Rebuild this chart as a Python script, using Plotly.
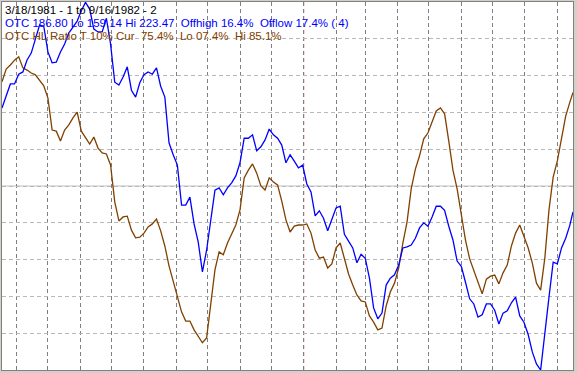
import pandas as pd
import plotly.graph_objects as go

# Sample dates: every 4 calendar days from 3/18/1981, plus the final day 9/16/1982
dates = list(pd.date_range("1981-03-18", periods=137, freq="4D")) + [pd.Timestamp("1982-09-16")]

# OTC index values (blue)
otc = [205.0, 207.1, 209.2, 209.2, 210.9, 211.3, 213.4, 214.6, 217.2, 219.5,
       219.3, 214.8, 212.9, 213.0, 214.8, 216.2, 218.1, 219.2, 220.2, 222.0,
       223.47, 222.3, 218.8, 218.3, 218.3, 220.7, 216.2, 209.5, 209.0, 210.4,
       212.2, 208.1, 206.9, 209.4, 210.8, 211.3, 210.9, 212.0, 208.8, 206.9,
       198.9, 196.8, 195.0, 188.0, 188.0, 189.4, 184.7, 181.5, 176.3, 180.1,
       185.7, 190.6, 191.0, 189.8, 191.0, 191.9, 193.1, 195.4, 199.7, 199.7,
       200.3, 197.5, 198.2, 199.4, 201.3, 200.3, 199.7, 198.5, 195.4, 196.8,
       195.7, 194.5, 195.0, 191.7, 190.3, 186.1, 187.0, 185.7, 183.5, 185.7,
       187.5, 187.8, 182.9, 181.7, 180.5, 177.9, 179.4, 178.7, 175.2, 170.0,
       168.1, 169.1, 174.0, 175.2, 175.8, 177.5, 180.5, 180.7, 181.0, 182.2,
       184.0, 184.9, 184.3, 185.9, 187.8, 187.8, 187.1, 184.3, 181.9, 178.2,
       177.3, 174.5, 171.6, 170.7, 168.4, 168.8, 170.7, 170.7, 169.6, 167.2,
       169.1, 169.5, 170.9, 171.9, 168.6, 167.5, 165.4, 162.3, 160.2, 159.14,
       166.0, 171.9, 178.0, 177.7, 180.5, 182.2, 184.5, 186.80]

# OTC HL Ratio values in % (brown)
hl_ratio = [78.3, 81.8, 82.9, 84.2, 85.1, 82.1, 81.5, 80.7, 80.2, 78.8,
            77.2, 73.9, 65.2, 64.9, 62.2, 65.2, 66.6, 68.5, 70.1, 64.9,
            63.0, 61.4, 63.3, 60.3, 59.0, 58.7, 55.7, 45.7, 40.5, 41.6,
            41.8, 38.0, 35.9, 36.1, 37.2, 38.9, 39.7, 41.0, 37.8, 33.7,
            28.3, 23.9, 20.1, 15.8, 13.3, 13.3, 10.9, 9.2, 7.4, 8.7,
            17.7, 27.2, 32.1, 31.3, 34.5, 37.0, 39.4, 43.5, 52.2, 54.3,
            56.0, 53.5, 50.0, 48.9, 52.2, 51.1, 50.3, 45.9, 40.8, 37.5,
            39.1, 39.4, 39.4, 39.7, 37.2, 32.6, 30.4, 30.7, 27.7, 28.8,
            33.2, 34.5, 30.2, 26.1, 23.1, 20.4, 18.8, 18.5, 14.7, 13.0,
            10.9, 11.4, 17.4, 21.2, 23.6, 27.7, 34.5, 40.2, 49.2, 54.6,
            58.2, 62.8, 64.4, 67.4, 70.4, 71.2, 69.6, 62.2, 54.3, 49.2,
            41.8, 35.3, 30.2, 27.2, 23.9, 20.7, 24.7, 25.5, 25.8, 23.4,
            26.4, 28.5, 33.7, 37.2, 39.4, 36.4, 33.2, 29.1, 23.6, 21.7,
            30.4, 43.5, 52.4, 56.8, 62.8, 69.0, 72.8, 75.4]

month_starts = list(pd.date_range("1981-04-01", "1982-09-01", freq="MS"))
year_break = "1982-01-01"
ratio_grid = [10, 20, 30, 40, 50, 60, 70, 80, 90]

header_lines = [
    ("3/18/1981 - 1 to 9/16/1982 - 2", "#000000"),
    ("OTC 186.80 Lo 159.14 Hi 223.47  Offhigh 16.4%  Offlow 17.4% ( 4)", "#0000ff"),
    ("OTC HL Ratio T 10% Cur  75.4%  Lo 07.4%  Hi 85.1%", "#804000"),
]

BLUE = "#0000ff"
BROWN = "#804000"

fig = go.Figure()
fig.add_trace(go.Scatter(x=dates, y=hl_ratio, mode="lines",
                         line=dict(color=BROWN, width=1.3), yaxis="y",
                         hoverinfo="skip"))
fig.add_trace(go.Scatter(x=dates, y=otc, mode="lines",
                         line=dict(color=BLUE, width=1.3), yaxis="y2",
                         hoverinfo="skip"))

# solid centre line and red year separator
fig.add_shape(type="line", xref="paper", x0=0, x1=1, yref="y", y0=50, y1=50,
              line=dict(color="#c0c0c0", width=1), layer="between")
fig.add_shape(type="line", xref="x", x0=year_break, x1=year_break, yref="paper", y0=0, y1=1,
              line=dict(color="#ff0000", width=1, dash="4px,3px"), layer="between")

for k, (txt, col) in enumerate(header_lines):
    fig.add_annotation(text=txt, xref="paper", yref="paper", x=0, y=1,
                       xanchor="left", yanchor="top", xshift=1, yshift=0 - 13 * k,
                       showarrow=False, align="left",
                       font=dict(family="Liberation Sans, Arial", size=11.5, color=col))

fig.update_layout(
    width=577, height=373,
    margin=dict(l=2, r=4, t=2, b=3),
    paper_bgcolor="#d4d0c8",
    plot_bgcolor="#ffffff",
    showlegend=False,
    xaxis=dict(range=["1981-03-18", "1982-09-16"], type="date",
               tickvals=month_starts, showticklabels=False, ticks="",
               showgrid=True, gridcolor="#808080", gridwidth=1, griddash="4px,3px",
               zeroline=False, showline=True, linecolor="#808080", linewidth=1, mirror=True),
    yaxis=dict(range=[0, 100], tickvals=ratio_grid, showticklabels=False, ticks="",
               showgrid=True, gridcolor="#b8b8b8", gridwidth=1, griddash="4px,3px",
               zeroline=False, showline=True, linecolor="#808080", linewidth=1, mirror=True),
    yaxis2=dict(range=[159.14, 223.54], overlaying="y", side="right",
                showticklabels=False, ticks="", showgrid=False, zeroline=False,
                showline=False),
)

fig.write_html("out.html")
